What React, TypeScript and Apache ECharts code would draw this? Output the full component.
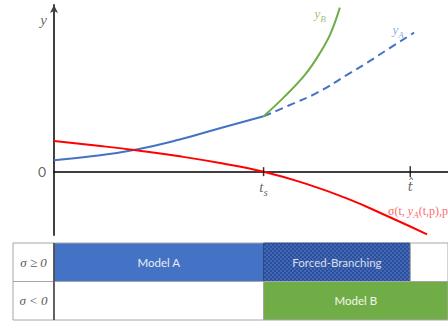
import { useEffect, useRef } from 'react';
import * as echarts from 'echarts';

// Switching time and horizon on the t axis
const T_S = 5;
const T_HAT = 8.5;
const T_END = 9.4;
const T_LABEL_COL = -0.978;

// Model A trajectory up to the switching time
const yASolid: [number, number][] = [
  [0, 0.69], [1, 0.95], [2, 1.35], [3, 1.93], [4, 2.64], [5, 3.32],
];
// Model A continued past the switching time (not active)
const yADashed: [number, number][] = [
  [5, 3.32], [5.6, 3.97], [6.28, 4.74], [7, 5.82], [7.47, 6.54], [8, 7.4], [8.59, 8.34],
];
// Model B trajectory after the switch
const yBAfter: [number, number][] = [
  [5, 3.32], [5.5, 4.5], [6, 5.85], [6.35, 7.14], [6.6, 8.3], [6.82, 9.84],
];
// Switching function along Model A
const sigmaA: [number, number][] = [
  [0, 1.84], [1, 1.57], [2, 1.27], [3, 0.92], [4, 0.5], [5, 0],
  [6, -0.72], [7, -1.62], [8, -2.72], [8.9, -3.76],
];

// Regime table
const rowLabels = ['σ ≥ 0', 'σ < 0'];
const regimeRow = [0, 0, 0, 1, 1];
const regimeFrom = [0, T_S, T_HAT, 0, T_S];
const regimeTo = [T_S, T_HAT, T_END, T_S, T_END];
const regimeName = ['Model A', 'Forced-Branching', '', '', 'Model B'];
const regimeKind = ['A', 'FB', 'none', 'none', 'B'];

const SERIF = '"Liberation Serif", "DejaVu Serif", serif';
const SANS = 'Lato, "Open Sans", sans-serif';

const checker =
  'data:image/svg+xml;charset=utf-8,' +
  encodeURIComponent(
    "<svg xmlns='http://www.w3.org/2000/svg' width='4' height='4'>" +
      "<rect width='4' height='4' fill='#3F68BA'/>" +
      "<rect width='2' height='2' fill='#2E4F96'/>" +
      "<rect x='2' y='2' width='2' height='2' fill='#2E4F96'/></svg>"
  );

export default function App() {
  const ref = useRef<HTMLDivElement>(null);

  useEffect(() => {
    if (!ref.current) return;
    const chart = echarts.init(ref.current, undefined, { renderer: 'svg' });

    const fills: Record<string, any> = {
      A: '#4472C4',
      FB: { image: checker, repeat: 'repeat', imageWidth: 4, imageHeight: 4 },
      B: '#70AD47',
      none: '#FFFFFF',
    };
    const textColors: Record<string, string> = {
      A: '#E9EEF8',
      FB: '#D9DEEA',
      B: '#F2F7EE',
      none: '#595959',
    };

    const tableData: any[] = [];
    rowLabels.forEach((lab, r) => {
      tableData.push([T_LABEL_COL, 0, r, lab, 'label']);
    });
    regimeRow.forEach((r, i) => {
      tableData.push([regimeFrom[i], regimeTo[i], r, regimeName[i], regimeKind[i]]);
    });

    const note = (
      t: number,
      y: number,
      formatter: string,
      position: any,
      rich: any,
      extra: any = {}
    ) => ({
      value: [t, y],
      label: { show: true, formatter, position, rich, distance: 0, ...extra },
    });

    // italic symbol with a lowered subscript
    const sub = (color: string, size = 13) => {
      const lh = Math.round(size * 1.45);
      const ss = Math.round(size * 0.72);
      return {
        i: { fontFamily: SERIF, fontStyle: 'italic', fontSize: size, color, lineHeight: lh },
        s: {
          fontFamily: SERIF,
          fontStyle: 'italic',
          fontSize: ss,
          color,
          lineHeight: ss,
          verticalAlign: 'bottom',
        },
        n: { fontFamily: SERIF, fontSize: size, color, lineHeight: lh },
      };
    };

    chart.setOption({
      animation: false,
      backgroundColor: '#ffffff',
      grid: [
        { left: 54, right: 0, top: 5, height: 230 },
        { left: 13, right: 0, top: 243, height: 77 },
      ],
      xAxis: [
        {
          type: 'value',
          gridIndex: 0,
          min: 0,
          max: T_END,
          axisLine: { onZero: true, lineStyle: { color: '#000000', width: 1.5 } },
          axisTick: { show: false },
          axisLabel: { show: false },
          splitLine: { show: false },
        },
        {
          type: 'value',
          gridIndex: 1,
          min: T_LABEL_COL,
          max: T_END,
          show: false,
        },
      ],
      yAxis: [
        {
          type: 'value',
          gridIndex: 0,
          min: -3.8,
          max: 10,
          axisLine: {
            show: true,
            onZero: false,
            symbol: ['none', 'arrow'],
            symbolSize: [6, 8],
            lineStyle: { color: '#404040', width: 2 },
          },
          axisTick: { show: false },
          axisLabel: { show: false },
          splitLine: { show: false },
        },
        {
          type: 'category',
          gridIndex: 1,
          data: rowLabels,
          inverse: true,
          show: false,
        },
      ],
      series: [
        {
          type: 'line',
          name: 'yA',
          data: yASolid,
          smooth: true,
          symbol: 'none',
          lineStyle: { color: '#4472C4', width: 2 },
          z: 3,
          markLine: {
            silent: true,
            symbol: 'none',
            label: { show: false },
            lineStyle: { color: '#A6A6A6', type: [8, 5], width: 2 },
            data: [[{ coord: [T_S, 0] }, { coord: [T_S, 10.3] }]],
          },
        },
        {
          type: 'line',
          name: 'yA continued',
          data: yADashed,
          smooth: true,
          symbol: 'none',
          lineStyle: { color: '#4472C4', width: 2, type: [8, 5] },
          z: 3,
        },
        {
          type: 'line',
          name: 'yB',
          data: yBAfter,
          smooth: 0.4,
          symbol: 'none',
          lineStyle: { color: '#70AD47', width: 2 },
          z: 3,
        },
        {
          type: 'line',
          name: 'sigma',
          data: sigmaA,
          smooth: true,
          clip: false,
          symbol: 'none',
          lineStyle: { color: '#FF0000', width: 2 },
          z: 3,
        },
        {
          // axis ticks at the switching time and horizon
          type: 'scatter',
          name: 'ticks',
          silent: true,
          symbol: 'rect',
          itemStyle: { color: '#000000' },
          data: [
            { value: [T_S, 0], symbolSize: [1.5, 9] },
            { value: [T_HAT, 0], symbolSize: [1.5, 11] },
          ],
          z: 4,
        },
        {
          type: 'scatter',
          name: 'notes',
          silent: true,
          clip: false,
          symbolSize: 0,
          z: 5,
          data: [
            note(0, 9.12, '{i|y}', 'left', sub('#404040', 15), { distance: 7 }),
            note(0, 0, '{n|0}', 'left', {
              n: { fontFamily: SANS, fontSize: 14, color: '#404040' },
            }, { distance: 8 }),
            note(T_S, 0, '{i|t}{s|s}', 'bottom', sub('#404040', 15), { distance: 4 }),
            note(T_HAT, 0, '{n|t\u0302}', 'bottom', {
              n: {
                fontFamily: '"DejaVu Serif", serif',
                fontStyle: 'italic',
                fontSize: 13,
                color: '#404040',
              },
            }, { distance: 8 }),
            note(6.35, 9.48, '{i|y}{s|B}', 'inside', sub('#7DB356', 13)),
            note(8.21, 8.52, '{i|y}{s|A}', 'inside', sub('#6F92D4', 13)),
            note(7.97, -2.34, '{n|σ(t, }{i|y}{s|A}{n|(t,p),p)}', 'right', sub('#FF3B3B', 12)),
          ],
        },
        {
          type: 'custom',
          name: 'regimes',
          xAxisIndex: 1,
          yAxisIndex: 1,
          silent: true,
          clip: false,
          encode: { x: [0, 1], y: 2 },
          data: tableData,
          renderItem: (params: any, api: any) => {
            const t0 = api.value(0);
            const t1 = api.value(1);
            const row = api.value(2);
            const kind = tableData[params.dataIndex][4];
            const text = tableData[params.dataIndex][3];
            const p0 = api.coord([t0, row]);
            const p1 = api.coord([t1, row]);
            const h = api.size([0, 1])[1];
            const top = p0[1] - h / 2;
            const children: any[] = [
              {
                type: 'rect',
                shape: { x: p0[0], y: top, width: p1[0] - p0[0], height: h },
                style: {
                  fill: kind === 'label' ? '#FFFFFF' : fills[kind],
                  stroke: kind === 'FB' ? '#2A4680' : '#A6A6A6',
                  lineWidth: 1,
                },
              },
            ];
            if (kind === 'label') {
              children.push({
                type: 'line',
                shape: { x1: p1[0], y1: top, x2: p1[0], y2: top + h },
                style: { stroke: '#404040', lineWidth: 1.5 },
                z2: 10,
              });
            }
            if (text) {
              children.push({
                type: 'text',
                style: {
                  text,
                  x: (p0[0] + p1[0]) / 2,
                  y: p0[1],
                  align: 'center',
                  verticalAlign: 'middle',
                  fill: kind === 'label' ? '#595959' : textColors[kind],
                  fontSize: kind === 'label' ? 13 : 11.5,
                  fontFamily: kind === 'label' ? SERIF : SANS,
                  fontStyle: kind === 'label' ? 'italic' : 'normal',
                },
                z2: 11,
              });
            }
            return { type: 'group', children };
          },
        },
      ],
    });

    return () => chart.dispose();
  }, []);

  return (
    <div
      ref={ref}
      style={{ position: 'fixed', left: 0, top: 0, width: 448, height: 322 }}
    />
  );
}
